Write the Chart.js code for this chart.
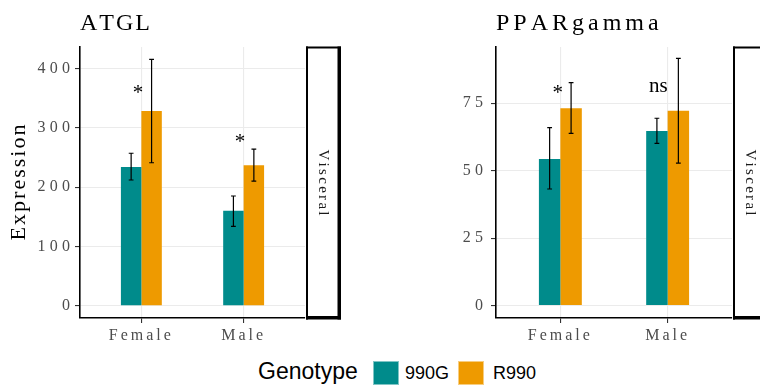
<!DOCTYPE html>
<html>
<head>
<meta charset="utf-8">
<script src="https://cdn.jsdelivr.net/npm/chart.js@4.4.0/dist/chart.umd.min.js"></script>
<style>
  body { margin: 0; background: #fff; width: 760px; height: 389px; position: relative; overflow: hidden; }
  canvas { position: absolute; top: 0; }
  #atgl { left: 0; }
  #ppar { left: 380px; }
  .leg { position: absolute; font-family: 'Liberation Sans', Arial, sans-serif; color: #000; line-height: 1; }
  .sw { position: absolute; width: 26px; height: 24px; box-sizing: border-box; border: 1px solid rgba(255,255,255,0.5); }
</style>
</head>
<body>
<canvas id="atgl" width="380" height="345"></canvas>
<canvas id="ppar" width="380" height="345"></canvas>

<div class="leg" style="left:258px; top:360px; font-size:23px;">Genotype</div>
<div class="sw" id="sw1" style="left:373px; top:361px;"></div>
<div class="leg" id="lab1" style="left:405px; top:364px; font-size:18px;"></div>
<div class="sw" id="sw2" style="left:458px; top:361px;"></div>
<div class="leg" id="lab2" style="left:493px; top:364px; font-size:18px;"></div>

<script>
// categories and genotypes
const categories = ['Female', 'Male'];
const genotypes = ['990G', 'R990'];
const genoColors = ['#008B8B', '#EE9A00'];
const stripLabel = 'Visceral';

// ATGL (mean and error bar limits)
const atglMean990G = [234, 160];
const atglMeanR990 = [328, 237];
const atglLow990G = [212, 134];
const atglHigh990G = [257, 185];
const atglLowR990 = [241, 210];
const atglHighR990 = [415, 264];
const atglTicks = [0, 100, 200, 300, 400];
const atglSig = ['*', '*'];
const atglSigX = [0.967, 1.964];
const atglSigY = [357, 275];

// PPARgamma
const pparMean990G = [54.3, 64.7];
const pparMeanR990 = [73.1, 72.2];
const pparLow990G = [43.2, 60.1];
const pparHigh990G = [65.9, 69.4];
const pparLowR990 = [63.8, 52.8];
const pparHighR990 = [82.6, 91.6];
const pparTicks = [0, 25, 50, 75];
const pparSig = ['*', 'ns'];
const pparSigX = [0.976, 1.913];
const pparSigY = [78.4, 81.3];

const SERIF = "'Liberation Serif', 'Times New Roman', serif";

// legend
document.getElementById('sw1').style.background = genoColors[0];
document.getElementById('sw2').style.background = genoColors[1];
document.getElementById('lab1').textContent = genotypes[0];
document.getElementById('lab2').textContent = genotypes[1];

// draw text one glyph at a time with extra spacing (ggplot output is spaced out)
function drawSpaced(ctx, text, x, y, spacing, align) {
    ctx.letterSpacing = '0px';
    const chars = Array.from(text);
    const widths = chars.map(c => ctx.measureText(c).width);
    const total = widths.reduce((s, w) => s + w, 0) + spacing * (chars.length - 1);
    let cx = x;
    if (align === 'center') cx = x - total / 2;
    else if (align === 'right') cx = x - total;
    ctx.textAlign = 'left';
    chars.forEach((c, i) => {
        ctx.fillText(c, cx, y);
        cx += widths[i] + spacing;
    });
}

// plugin: letter spacing, error bars, labels, strip
const panelPlugin = {
    id: 'panelDecor',
    beforeUpdate(chart) { chart.ctx.letterSpacing = '3px'; },
    beforeDraw(chart) { chart.ctx.letterSpacing = '3px'; },
    afterDatasetsDraw(chart) {
        const ctx = chart.ctx;
        const y = chart.scales.y;
        ctx.save();
        ctx.strokeStyle = '#000';
        ctx.lineWidth = 1.2;
        chart.data.datasets.forEach((ds, di) => {
            const meta = chart.getDatasetMeta(di);
            meta.data.forEach((bar, i) => {
                const x = bar.x;
                const yl = y.getPixelForValue(ds.errLow[i]);
                const yh = y.getPixelForValue(ds.errHigh[i]);
                ctx.beginPath();
                ctx.moveTo(x, yl); ctx.lineTo(x, yh);
                ctx.moveTo(x - 2.4, yl); ctx.lineTo(x + 2.4, yl);
                ctx.moveTo(x - 2.4, yh); ctx.lineTo(x + 2.4, yh);
                ctx.stroke();
            });
        });
        ctx.restore();
    },
    afterDraw(chart) {
        const p = chart.options.plugins.panelDecor;
        const ctx = chart.ctx;
        const a = chart.chartArea;
        const xs = chart.scales.x, ys = chart.scales.y;

        // y tick labels
        ctx.save();
        ctx.fillStyle = '#4D4D4D';
        ctx.font = '16px ' + SERIF;
        ctx.textBaseline = 'middle';
        p.ticks.forEach(v => {
            drawSpaced(ctx, String(v), a.left - p.yLabelGap, ys.getPixelForValue(v), 4.3, 'right');
        });
        ctx.restore();

        // significance labels
        ctx.save();
        ctx.letterSpacing = '0px';
        ctx.fillStyle = '#000';
        ctx.font = '21px ' + SERIF;
        ctx.textAlign = 'center';
        ctx.textBaseline = 'middle';
        p.sig.forEach((s, i) => {
            ctx.fillText(s, xs.getPixelForValue(p.sigX[i]), ys.getPixelForValue(p.sigY[i]));
        });
        ctx.restore();

        // title
        ctx.save();
        ctx.fillStyle = '#000';
        ctx.font = '24px ' + SERIF;
        ctx.textBaseline = 'middle';
        drawSpaced(ctx, p.title, a.left, 24, p.titleSpacing, 'left');
        ctx.restore();

        // y axis title
        if (p.yTitle) {
            ctx.save();
            ctx.fillStyle = '#000';
            ctx.font = '22px ' + SERIF;
            ctx.translate(19, (a.top + a.bottom) / 2);
            ctx.rotate(-Math.PI / 2);
            ctx.textBaseline = 'middle';
            drawSpaced(ctx, p.yTitle, 0, 0, 2, 'center');
            ctx.restore();
        }

        // facet strip
        const sx = a.right + 1, sy = a.top - 0.5, sw = 35, sh = a.bottom + 1.5 - sy;
        ctx.save();
        ctx.fillStyle = '#fff';
        ctx.fillRect(sx, sy, sw, sh);
        ctx.fillStyle = '#000';
        ctx.fillRect(sx, sy, 2, sh);
        ctx.fillRect(sx, sy, sw, 2);
        ctx.fillRect(sx + sw - 3.5, sy, 3.5, sh);
        ctx.fillRect(sx, sy + sh - 3.5, sw, 3.5);
        ctx.font = '15px ' + SERIF;
        ctx.fillStyle = '#1A1A1A';
        ctx.translate(sx + sw / 2 - 0.5, (a.top + a.bottom) / 2);
        ctx.rotate(Math.PI / 2);
        ctx.textBaseline = 'middle';
        drawSpaced(ctx, stripLabel, 0, 0, 2.3, 'center');
        ctx.restore();
    }
};

function axisStyle() {
    return {
        grid: { color: '#EBEBEB', lineWidth: 1.1, tickColor: '#333', tickLength: 5, tickWidth: 1.1, offset: false },
        border: { color: '#000', width: 1.6 },
        ticks: { color: '#4D4D4D', font: { family: SERIF, size: 16 } }
    };
}

function makePanel(id, p) {
    const ctx = document.getElementById(id).getContext('2d');
    const xa = axisStyle(), ya = axisStyle();
    return new Chart(ctx, {
        type: 'bar',
        data: {
            datasets: [
                {
                    label: genotypes[0],
                    data: p.mean990G.map((v, i) => ({ x: i + 1, y: v })),
                    backgroundColor: genoColors[0],
                    errLow: p.low990G, errHigh: p.high990G
                },
                {
                    label: genotypes[1],
                    data: p.meanR990.map((v, i) => ({ x: i + 1, y: v })),
                    backgroundColor: genoColors[1],
                    errLow: p.lowR990, errHigh: p.highR990
                }
            ]
        },
        options: {
            responsive: false,
            animation: false,
            devicePixelRatio: 1,
            layout: { padding: { top: 47, right: p.padRight, left: 0, bottom: 0 } },
            datasets: { bar: { categoryPercentage: 0.4, barPercentage: 1, borderWidth: 0 } },
            plugins: {
                legend: { display: false },
                tooltip: { enabled: false },
                panelDecor: p
            },
            scales: {
                x: {
                    type: 'linear', min: 0.4, max: 2.6, offset: false,
                    afterBuildTicks: s => { s.ticks = categories.map((c, i) => ({ value: i + 1 })); },
                    afterFit: s => { s.height = 27; },
                    grid: xa.grid, border: xa.border,
                    ticks: Object.assign(xa.ticks, {
                        padding: 3, autoSkip: false, maxRotation: 0,
                        callback: v => categories[v - 1]
                    })
                },
                y: {
                    min: p.yMin, max: p.yMax,
                    afterBuildTicks: s => { s.ticks = p.ticks.map(v => ({ value: v })); },
                    afterFit: s => { s.width = p.yWidth; },
                    grid: ya.grid, border: ya.border,
                    ticks: Object.assign(ya.ticks, { display: false })
                }
            }
        },
        plugins: [panelPlugin]
    });
}

makePanel('atgl', {
    title: 'ATGL', titleSpacing: 2, yTitle: 'Expression',
    mean990G: atglMean990G, meanR990: atglMeanR990,
    low990G: atglLow990G, high990G: atglHigh990G,
    lowR990: atglLowR990, highR990: atglHighR990,
    ticks: atglTicks, yMin: -20.5, yMax: 436,
    sig: atglSig, sigX: atglSigX, sigY: atglSigY,
    yWidth: 80, padRight: 75, yLabelGap: 10
});

makePanel('ppar', {
    title: 'PPARgamma', titleSpacing: 4, yTitle: null,
    mean990G: pparMean990G, meanR990: pparMeanR990,
    low990G: pparLow990G, high990G: pparHigh990G,
    lowR990: pparLowR990, highR990: pparHighR990,
    ticks: pparTicks, yMin: -4.6, yMax: 95.8,
    sig: pparSig, sigX: pparSigX, sigY: pparSigY,
    yWidth: 116, padRight: 28, yLabelGap: 13
});
</script>
</body>
</html>
